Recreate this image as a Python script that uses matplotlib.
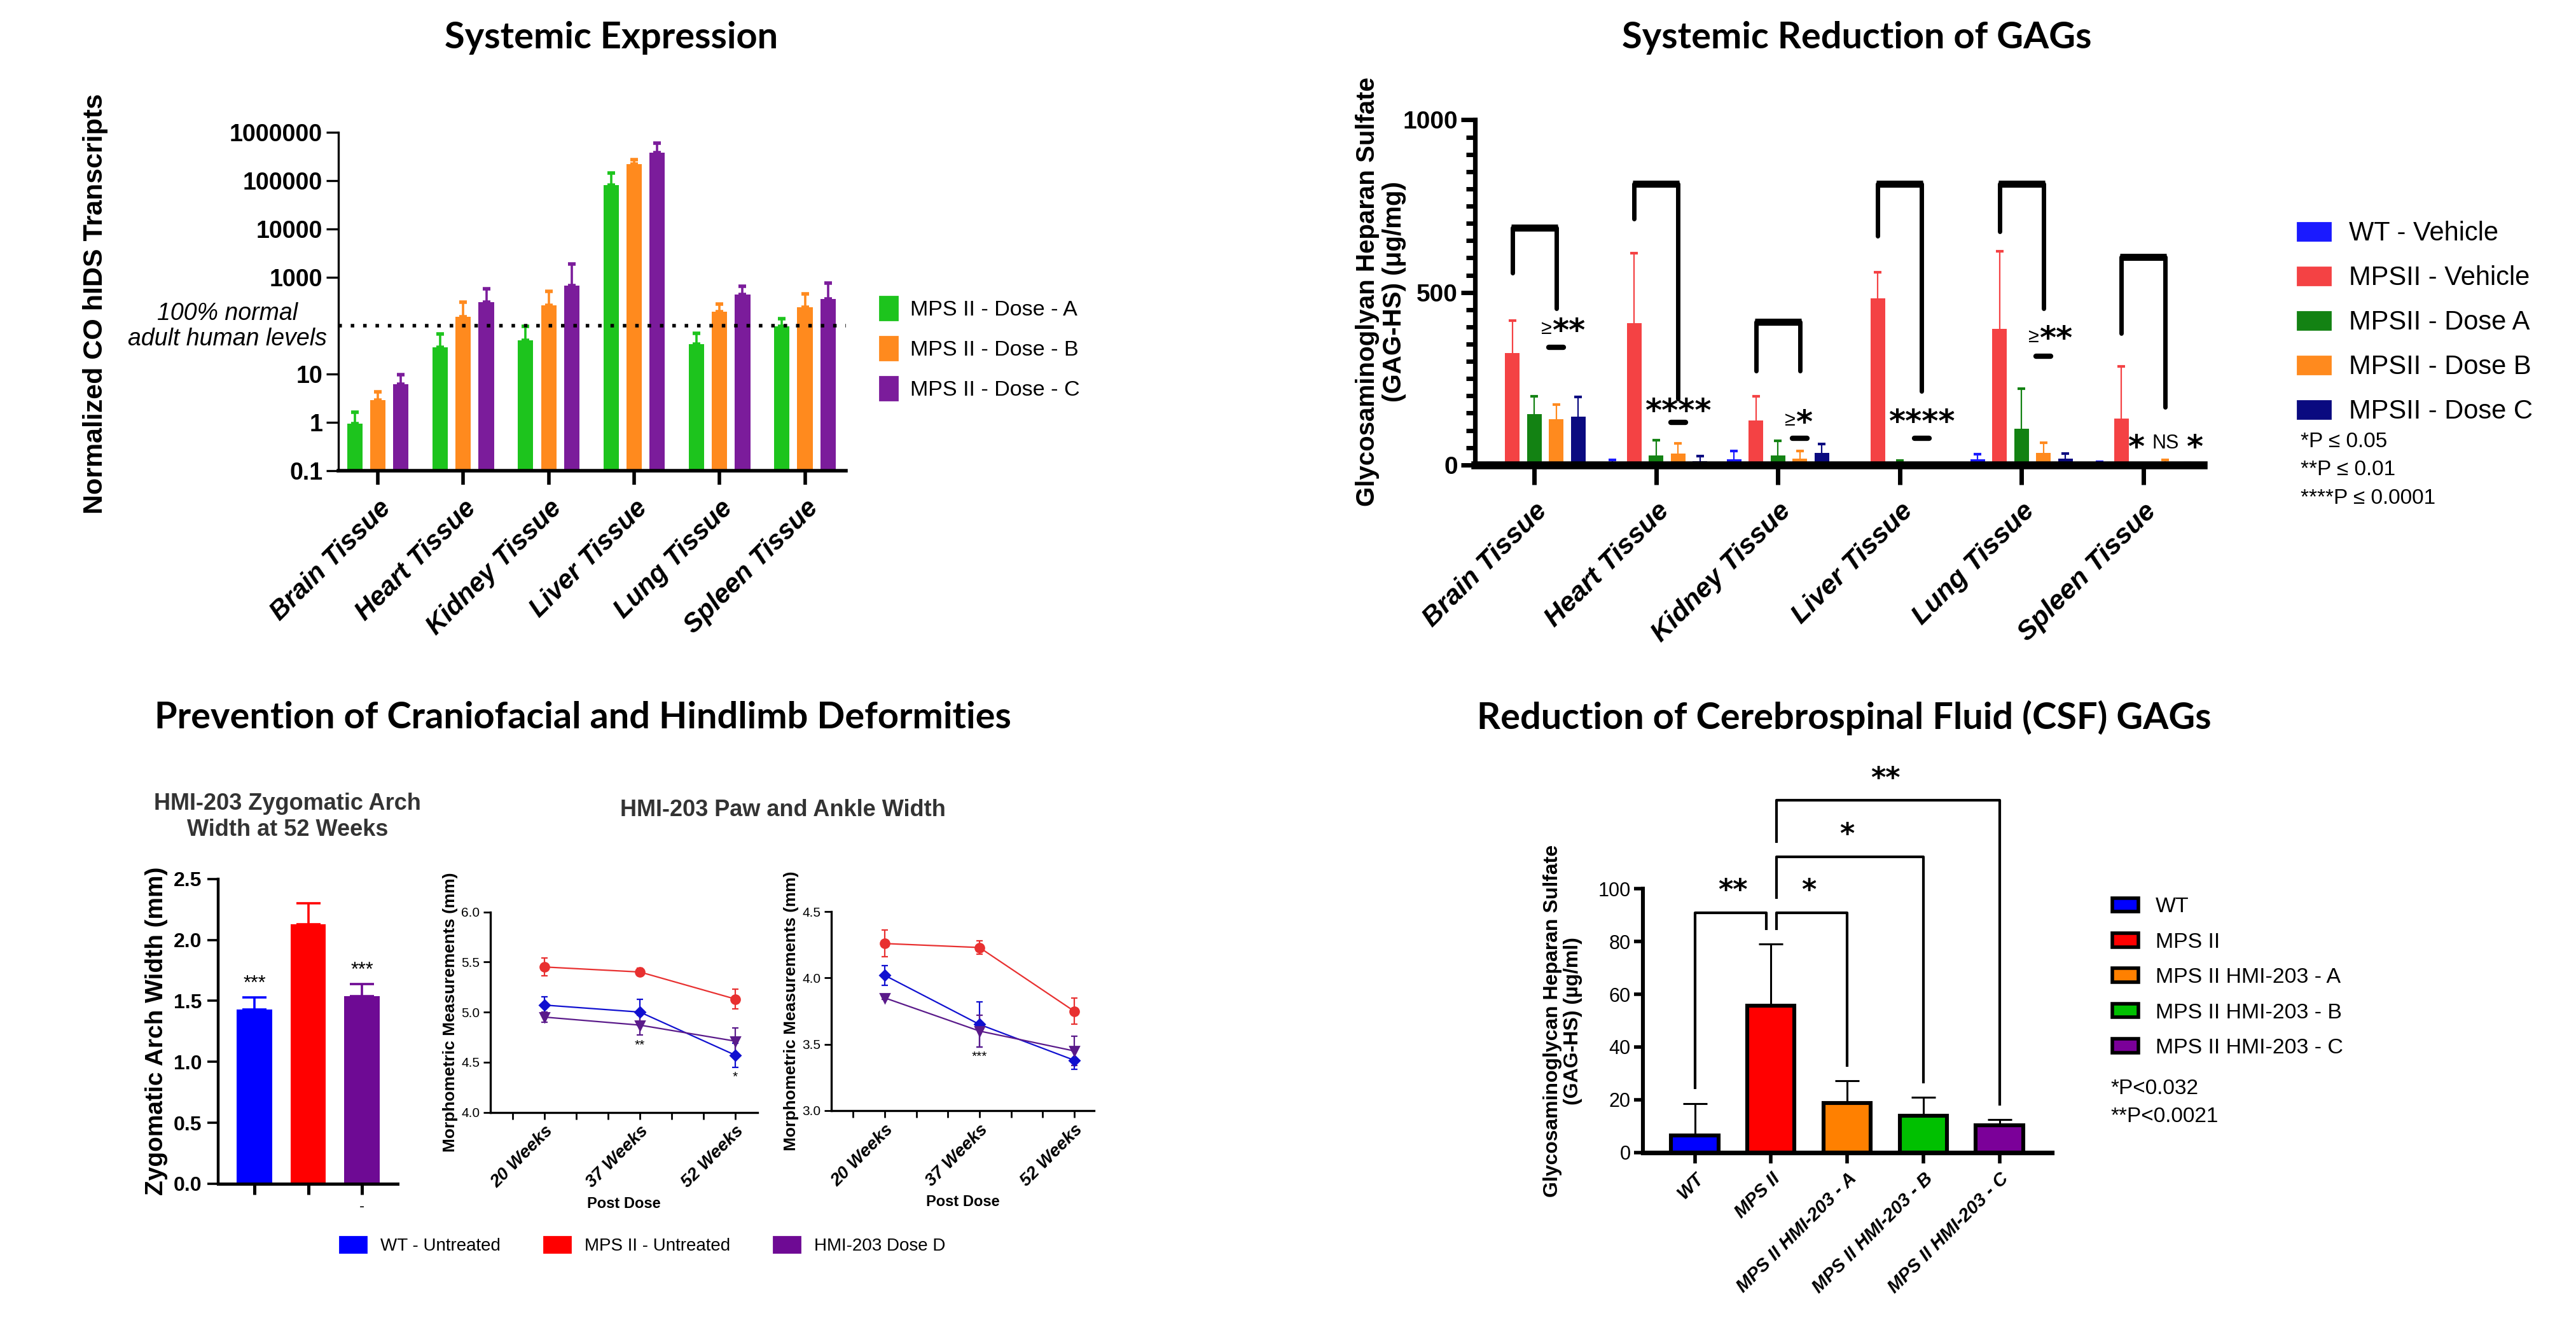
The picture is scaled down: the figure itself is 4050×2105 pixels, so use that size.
import numpy as np
import matplotlib
matplotlib.use('Agg')
from matplotlib import pyplot as plt
from matplotlib.patches import Patch

SANS = ['Liberation Sans', 'DejaVu Sans']
HEAD = ['Lato', 'DejaVu Sans']
STAR = ['DejaVu Sans']

# ---------------- Systemic Expression (top left)
tissues = ['Brain Tissue', 'Heart Tissue', 'Kidney Tissue', 'Liver Tissue', 'Lung Tissue', 'Spleen Tissue']
expr_labels = ['MPS II - Dose - A', 'MPS II - Dose - B', 'MPS II - Dose - C']
expr_dose_a = [0.93, 36, 50, 82000, 42, 97]
expr_dose_a_err = [0.71, 31, 47, 64000, 28, 42]
expr_dose_b = [2.87, 153, 268, 220000, 193, 243]
expr_dose_b_err = [1.38, 153, 250, 57000, 89, 211]
expr_dose_c = [6.1, 306, 673, 379000, 440, 361]
expr_dose_c_err = [3.6, 284, 1257, 232000, 222, 396]
normal_level = 100

# ---------------- Systemic Reduction of GAGs (top right)
gag_labels = ['WT - Vehicle', 'MPSII - Vehicle', 'MPSII - Dose A', 'MPSII - Dose B', 'MPSII - Dose C']
gag_wt = [3, 5, 16, 2, 17, 5]
gag_wt_err = [3, 10, 25, 2, 14, 4]
gag_vehicle = [324, 411, 128, 483, 395, 134]
gag_vehicle_err = [95, 203, 71, 76, 224, 151]
gag_dose_a = [148, 28, 28, 4, 104, 2]
gag_dose_a_err = [51, 43, 42, 9, 117, 2]
gag_dose_b = [132, 32, 19, 2, 34, 5]
gag_dose_b_err = [42, 30, 21, 2, 31, 9]
gag_dose_c = [140, 10, 34, 2, 18, 3]
gag_dose_c_err = [57, 15, 27, 2, 14, 2]
# bracket: top, left leg end, right leg end, label, label y, dash y
gag_bracket_top = [687, 814, 414, 814, 814, 602]
gag_bracket_left = [557, 714, 272, 664, 677, 382]
gag_bracket_right = [454, 192, 272, 214, 454, 167]
gag_geq = [True, False, True, False, True, False]
gag_sig = ['**', '****', '*', '****', '**', '* NS *']
gag_sig_y = [400, 167, 135, 137, 377, 62]
gag_dash_y = [340, 124, 77, 77, 315, None]
gag_notes = ['*P ≤ 0.05', '**P ≤ 0.01', '****P ≤ 0.0001']

# ---------------- Craniofacial / hindlimb (bottom left)
zyg_groups = ['WT - Untreated', 'MPS II - Untreated', 'HMI-203 Dose D']
zyg_width = [1.43, 2.13, 1.54]
zyg_err = [0.10, 0.17, 0.10]
zyg_sig = ['***', '', '***']

weeks = ['20 Weeks', '37 Weeks', '52 Weeks']
paw_wt = [5.07, 5.00, 4.57]
paw_wt_err = [0.08, 0.13, 0.12]
paw_mps = [5.45, 5.40, 5.13]
paw_mps_err = [0.09, 0.04, 0.10]
paw_dose = [4.95, 4.87, 4.71]
paw_dose_err = [0.05, 0.10, 0.13]
paw_sig = ['', '**', '*']
ankle_wt = [4.02, 3.65, 3.38]
ankle_wt_err = [0.075, 0.17, 0.07]
ankle_mps = [4.26, 4.23, 3.75]
ankle_mps_err = [0.10, 0.05, 0.10]
ankle_dose = [3.85, 3.60, 3.45]
ankle_dose_err = [0.01, 0.12, 0.11]
ankle_sig = ['', '***', '']

# ---------------- CSF GAGs (bottom right)
csf_groups = ['WT', 'MPS II', 'MPS II HMI-203 - A', 'MPS II HMI-203 - B', 'MPS II HMI-203 - C']
csf_gag = [6.5, 55.6, 18.8, 13.9, 10.2]
csf_err = [12.1, 23.4, 8.3, 7.1, 2.3]
csf_pairs = [(0, 1), (1, 2), (1, 3), (1, 4)]
csf_left_start = [24.5, 84.8, 96.7, 118]
csf_top = [91, 91, 112.2, 133.5]
csf_right_end = [84.8, 33, 26.7, 18.2]
csf_sig = ['**', '*', '*', '**']
csf_notes = ['*P<0.032', '**P<0.0021']

fig = plt.figure(figsize=(20.25, 10.525), dpi=200)

for txt, x, y in [('Systemic Expression', 0.2372, 0.9718), ('Systemic Reduction of GAGs', 0.7207, 0.9718),
                  ('Prevention of Craniofacial and Hindlimb Deformities', 0.2264, 0.4638),
                  ('Reduction of Cerebrospinal Fluid (CSF) GAGs', 0.716, 0.4638)]:
    fig.text(x, y, txt, ha='center', va='center', fontsize=20.8, fontweight='bold', family=HEAD)

## ---- panel A
ax = fig.add_axes([0.1314, 0.6485, 0.197, 0.2525])
cols_a = ['#1DC41D', '#FF8A1E', '#7B1C9B']
x = np.arange(len(tissues))
for k, (v, e) in enumerate([(expr_dose_a, expr_dose_a_err), (expr_dose_b, expr_dose_b_err), (expr_dose_c, expr_dose_c_err)]):
    ax.bar(x + (k - 1) * 0.27, v, 0.18, color=cols_a[k], label=expr_labels[k])
    ax.errorbar(x + (k - 1) * 0.27, v, yerr=[np.zeros(len(v)), e], fmt='none', ecolor=cols_a[k],
                elinewidth=1.3, capsize=2.3, capthick=2)
ax.set_yscale('log')
ax.set_ylim(0.1, 1e6)
ax.set_xlim(-0.46, 5.48)
ax.axhline(normal_level, color='k', lw=2, ls=(0, (1, 2.5)))
ax.set_yticks([0.1, 1, 10, 1000, 10000, 100000, 1000000])
ax.set_yticklabels(['0.1', '1', '10', '1000', '10000', '100000', '1000000'], fontsize=13.5, fontweight='bold', family=SANS)
ax.minorticks_off()
ax.set_xticks(x)
ax.set_xticklabels(tissues, rotation=45, ha='right', rotation_mode='anchor', fontsize=15,
                   fontweight='bold', fontstyle='italic', family=SANS)
ax.tick_params(axis='y', length=7, width=1.2, pad=2)
ax.tick_params(axis='x', length=8, width=2, pad=6)
for s in ['top', 'right']:
    ax.spines[s].set_visible(False)
ax.spines['left'].set_linewidth(1.2)
ax.spines['bottom'].set_linewidth(2)
fig.text(0.037, 0.773, 'Normalized CO hIDS Transcripts', rotation=90, ha='center', va='center',
         fontsize=15.5, fontweight='bold', family=SANS)
fig.text(0.0883, 0.766, '100% normal', ha='center', va='center', fontsize=13.5, fontstyle='italic', family=SANS)
fig.text(0.0883, 0.747, 'adult human levels', ha='center', va='center', fontsize=13.5, fontstyle='italic', family=SANS)
ax.legend(handles=[Patch(color=c, label=l) for c, l in zip(cols_a, expr_labels)], loc='center left',
          bbox_to_anchor=(0.334, 0.74), bbox_transform=fig.transFigure, frameon=False,
          prop={'family': SANS, 'size': 12.3}, handlelength=0.8, handleheight=1.3, labelspacing=0.75, handletextpad=0.6)

## ---- panel B
ax = fig.add_axes([0.5727, 0.6528, 0.2825, 0.2577])
cols_b = ['#1A1AFF', '#F44244', '#138213', '#FF8A1E', '#0A0A80']
series_b = [(gag_wt, gag_wt_err), (gag_vehicle, gag_vehicle_err), (gag_dose_a, gag_dose_a_err),
            (gag_dose_b, gag_dose_b_err), (gag_dose_c, gag_dose_c_err)]
step = 0.18
star_drop = 15  # asterisk glyphs sit high in their text box
for k, (v, e) in enumerate(series_b):
    ax.bar(x + (k - 2) * step, v, 0.12, color=cols_b[k], label=gag_labels[k], zorder=2)
    ax.errorbar(x + (k - 2) * step, v, yerr=e, fmt='none', ecolor=cols_b[k],
                elinewidth=0.8, capsize=2, capthick=1.5, zorder=2)
for i in range(len(tissues)):
    xl, xr = i - step, i + step
    ax.plot([xl, xl], [gag_bracket_left[i], gag_bracket_top[i]], color='k', lw=2.5, solid_capstyle='round', clip_on=False)
    ax.plot([xr, xr], [gag_bracket_right[i], gag_bracket_top[i]], color='k', lw=2.5, solid_capstyle='round', clip_on=False)
    ax.plot([xl - 0.01, xr + 0.01], [gag_bracket_top[i], gag_bracket_top[i]], color='k', lw=4, solid_capstyle='butt',
            clip_on=False)
    sy = gag_sig_y[i]
    if gag_geq[i]:
        ax.text(xr - 0.035, sy - 6, '≥', ha='right', va='center', fontsize=11, family=SANS)
        ax.text(xr - 0.035, sy - star_drop, gag_sig[i], ha='left', va='center', fontsize=18, fontweight='bold',
                family=STAR)
    elif 'NS' in gag_sig[i]:
        ax.text(xr, sy, 'NS', ha='center', va='center', fontsize=11, family=SANS)
        ax.text(xr - 0.24, sy - star_drop, '*', ha='center', va='center', fontsize=18, fontweight='bold', family=STAR)
        ax.text(xr + 0.24, sy - star_drop, '*', ha='center', va='center', fontsize=18, fontweight='bold', family=STAR)
    else:
        ax.text(xr, sy - star_drop, gag_sig[i], ha='center', va='center', fontsize=18, fontweight='bold', family=STAR)
    if gag_dash_y[i] is not None:
        ax.plot([xr - 0.06, xr + 0.06], [gag_dash_y[i], gag_dash_y[i]], color='k', lw=3, solid_capstyle='round')
ax.set_ylim(0, 1000)
ax.set_xlim(-0.485, 5.49)
ax.set_yticks([0, 500, 1000])
ax.set_yticks(np.arange(0, 1001, 50), minor=True)
ax.set_yticklabels(['0', '500', '1000'], fontsize=14, fontweight='bold', family=SANS)
ax.tick_params(axis='y', which='major', length=8, width=2.5, pad=2)
ax.tick_params(axis='y', which='minor', length=5, width=2.5)
ax.set_xticks(x)
ax.set_xticklabels(tissues, rotation=45, ha='right', rotation_mode='anchor', fontsize=15.5,
                   fontweight='bold', fontstyle='italic', family=SANS)
ax.tick_params(axis='x', length=11, width=2.5, pad=8)
for s in ['top', 'right']:
    ax.spines[s].set_visible(False)
ax.spines['left'].set_linewidth(2.6)
ax.spines['bottom'].set_linewidth(4.5)
ax.spines['bottom'].set_zorder(3)
fig.text(0.536, 0.782, 'Glycosaminoglyan Heparan Sulfate\n(GAG-HS) (μg/mg)', rotation=90, ha='center', va='center',
         fontsize=14.5, fontweight='bold', family=SANS, linespacing=1.15)
ax.legend(handles=[Patch(color=c, label=l) for c, l in zip(cols_b, gag_labels)], loc='center left',
          bbox_to_anchor=(0.8825, 0.759), bbox_transform=fig.transFigure, frameon=False,
          prop={'family': SANS, 'size': 15}, handlelength=1.25, handleheight=0.65, labelspacing=0.72, handletextpad=0.7)
for i, t in enumerate(gag_notes):
    fig.text(0.893, 0.670 - i * 0.021, t, ha='left', va='center', fontsize=12, family=SANS)

## ---- panel C: zygomatic arch
ax = fig.add_axes([0.0848, 0.116, 0.0695, 0.2276])
cols_c = ['#0000FF', '#FF0000', '#6E0A94']
xz = np.arange(len(zyg_groups))
ax.bar(xz, zyg_width, 0.66, color=cols_c)
for i in range(len(xz)):
    ax.errorbar(xz[i], zyg_width[i], yerr=[[0], [zyg_err[i]]], fmt='none', ecolor=cols_c[i],
                elinewidth=1.3, capsize=7, capthick=1.3)
    ax.text(xz[i], zyg_width[i] + zyg_err[i] + 0.03, zyg_sig[i], ha='center', va='bottom', fontsize=11, family=SANS)
ax.set_ylim(0, 2.5)
ax.set_xlim(-0.67, 2.66)
ax.set_yticks(np.arange(0, 2.51, 0.5))
ax.set_yticklabels(['0.0', '0.5', '1.0', '1.5', '2.0', '2.5'], fontsize=11.5, fontweight='bold', family=SANS)
ax.set_xticks(xz)
ax.set_xticklabels(['', '', '-'], fontsize=8)
ax.tick_params(axis='y', length=6, width=1.3)
ax.tick_params(axis='x', length=6, width=1.8)
for s in ['top', 'right']:
    ax.spines[s].set_visible(False)
ax.spines['left'].set_linewidth(1.6)
ax.spines['bottom'].set_linewidth(1.8)
ax.set_ylabel('Zygomatic Arch Width (mm)', fontsize=14, fontweight='bold', family=SANS, labelpad=3)
fig.text(0.1116, 0.39, 'HMI-203 Zygomatic Arch\nWidth at 52 Weeks', ha='center', va='center', fontsize=13,
         fontweight='bold', color='#333333', family=SANS, linespacing=1.2)

## ---- panel C: paw and ankle
fig.text(0.304, 0.395, 'HMI-203 Paw and Ankle Width', ha='center', va='center', fontsize=13,
         fontweight='bold', color='#333333', family=SANS)
xw = np.arange(len(weeks))
paw_sets = [
    ([0.1904, 0.1693, 0.1036, 0.1497], (4, 6), [4.0, 4.5, 5.0, 5.5, 6.0],
     [(paw_mps, paw_mps_err), (paw_wt, paw_wt_err), (paw_dose, paw_dose_err)], paw_sig, -0.565, 2.23),
    ([0.3227, 0.1706, 0.1020, 0.1485], (3, 4.5), [3.0, 3.5, 4.0, 4.5],
     [(ankle_mps, ankle_mps_err), (ankle_wt, ankle_wt_err), (ankle_dose, ankle_dose_err)], ankle_sig, -0.565, 2.21),
]
line_cols = ['#E83030', '#1010D0', '#5A1A8A']
markers = ['o', 'D', 'v']
msizes = [5, 4, 5]
for rect, ylim, yt, series, sig, x0, x1 in paw_sets:
    ax = fig.add_axes(rect)
    lows = []
    for k, (v, e) in enumerate(series):
        ax.errorbar(xw, v, yerr=e, color=line_cols[k], marker=markers[k], ms=msizes[k], lw=0.8,
                    elinewidth=0.8, capsize=1.8, capthick=0.8)
        lows.append(np.array(v) - np.array(e))
    low = np.min(lows, axis=0)
    for i, s in enumerate(sig):
        if s:
            ax.text(xw[i], low[i] - 0.05 * (ylim[1] - ylim[0]), s, ha='center', va='center', fontsize=7.5, family=SANS)
    ax.set_ylim(*ylim)
    ax.set_xlim(x0, x1)
    ax.set_yticks(yt)
    ax.set_yticklabels(['%.1f' % t for t in yt], fontsize=7.5, family=SANS)
    ax.set_xticks(xw)
    ax.set_xticks([-1/3, 1/3, 2/3, 4/3, 5/3], minor=True)
    ax.set_xticklabels(weeks, rotation=45, ha='right', rotation_mode='anchor', fontsize=10,
                       fontweight='bold', fontstyle='italic', family=SANS)
    ax.tick_params(axis='both', which='both', length=4, width=1, pad=2)
    for s in ['top', 'right']:
        ax.spines[s].set_visible(False)
    ax.spines['left'].set_linewidth(1.2)
    ax.spines['bottom'].set_linewidth(1.2)
    ax.set_ylabel('Morphometric Measurements (mm)', fontsize=9.5, fontweight='bold', family=SANS, labelpad=2)
    ax.set_xlabel('Post Dose', fontsize=8.5, fontweight='bold', family=SANS, labelpad=3)

fig.legend(handles=[Patch(color=c, label=l) for c, l in zip(cols_c, zyg_groups)], loc='center',
           bbox_to_anchor=(0.2495, 0.07), ncol=3, frameon=False, prop={'family': SANS, 'size': 10},
           handlelength=1.5, handleheight=1.0, columnspacing=2.45, handletextpad=0.8)

## ---- panel D: CSF
ax = fig.add_axes([0.6378, 0.1393, 0.1588, 0.1969])
cols_d = ['#0000FF', '#FF0000', '#FF8000', '#00C000', '#7B0099']
xc = np.arange(len(csf_groups))
ax.bar(xc, csf_gag, 0.62, color=cols_d, edgecolor='k', linewidth=2.2, zorder=2)
ax.errorbar(xc, csf_gag, yerr=[np.zeros(len(xc)), csf_err], fmt='none', ecolor='k', elinewidth=1.1,
            capsize=7, capthick=1.1, zorder=1)
for n, (i, j) in enumerate(csf_pairs):
    xl = xc[i] + (0.07 if i == 1 else 0)
    xr = xc[j] - (0.06 if j == 1 else 0)
    ax.plot([xl, xl, xr, xr], [csf_left_start[n], csf_top[n], csf_top[n], csf_right_end[n]], color='k', lw=1.5,
            clip_on=False)
    ax.text((xc[i] + xc[j]) / 2, csf_top[n] + 3, csf_sig[n], ha='center', va='bottom', fontsize=16,
            fontweight='bold', family=STAR)
ax.set_ylim(0, 100)
ax.set_xlim(-0.68, 4.69)
ax.set_yticks(np.arange(0, 101, 20))
ax.set_yticklabels([str(t) for t in range(0, 101, 20)], fontsize=11, family=SANS)
ax.set_xticks(xc)
ax.set_xticklabels(csf_groups, rotation=45, ha='right', rotation_mode='anchor', fontsize=10.5,
                   fontweight='bold', fontstyle='italic', family=SANS)
ax.tick_params(axis='y', length=5, width=2, pad=2)
ax.tick_params(axis='x', length=6, width=2)
for s in ['top', 'right']:
    ax.spines[s].set_visible(False)
ax.spines['left'].set_linewidth(2.2)
ax.spines['bottom'].set_linewidth(2.6)
fig.text(0.6066, 0.2375, 'Glycosaminoglycan Heparan Sulfate\n(GAG-HS) (µg/ml)', rotation=90, ha='center',
         va='center', fontsize=11.5, fontweight='bold', family=SANS, linespacing=1.1)
ax.legend(handles=[Patch(facecolor=c, edgecolor='k', linewidth=2, label=l) for c, l in zip(cols_d, csf_groups)],
          loc='center left', bbox_to_anchor=(0.8125, 0.27), bbox_transform=fig.transFigure, frameon=False,
          prop={'family': SANS, 'size': 12.2}, handlelength=1.2, handleheight=0.6, labelspacing=0.72,
          handletextpad=0.8)
for i, t in enumerate(csf_notes):
    fig.text(0.8195, 0.187 - i * 0.021, t, ha='left', va='center', fontsize=12, family=SANS)

fig.savefig('out.png', dpi=200)
